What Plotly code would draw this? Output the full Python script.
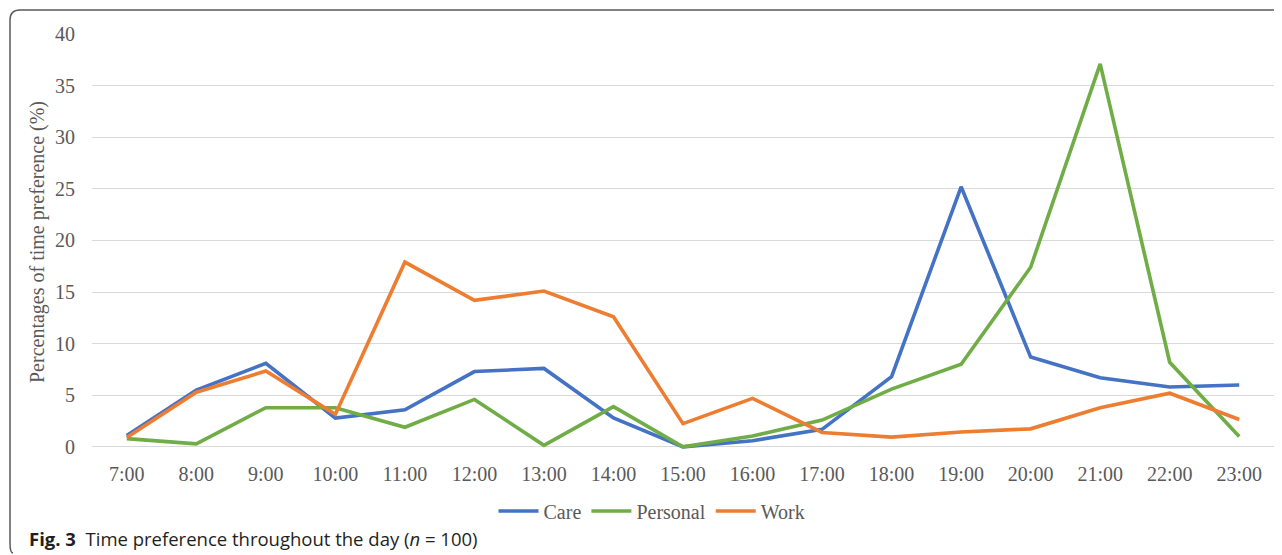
import plotly.graph_objects as go

hours = ["7:00", "8:00", "9:00", "10:00", "11:00", "12:00", "13:00", "14:00", "15:00",
         "16:00", "17:00", "18:00", "19:00", "20:00", "21:00", "22:00", "23:00"]
care = [1.1, 5.5, 8.1, 2.8, 3.6, 7.3, 7.6, 2.8, 0.0, 0.6, 1.7, 6.8, 25.2, 8.7, 6.7, 5.8, 6.0]
personal = [0.8, 0.3, 3.8, 3.8, 1.9, 4.6, 0.15, 3.9, 0.0, 1.05, 2.6, 5.6, 8.0, 17.4, 37.1, 8.2, 1.0]
work = [0.9, 5.3, 7.35, 3.15, 17.9, 14.2, 15.1, 12.6, 2.25, 4.7, 1.4, 0.95, 1.45, 1.75, 3.8, 5.2, 2.65]

OFF = 8  # page body margin
W, H = 1274, 547
L, R, T, B = 84, 8, 26, 105
PW, PH = W - L - R, H - T - B


def px(x):
    """screen x -> paper"""
    return (x - OFF - L) / PW


def py(y):
    """screen y -> paper"""
    return (H - B - (y - OFF)) / PH


serif = "Liberation Serif"
grey = "#595959"

fig = go.Figure()
for name, vals, col in [("Care", care, "#4472C4"), ("Personal", personal, "#70AD47"),
                        ("Work", work, "#ED7D31")]:
    fig.add_trace(go.Scatter(x=hours, y=vals, name=name, mode="lines",
                             line=dict(color=col, width=3.6)))

# rounded border box
x0, x1, y0, y1, r = 10, 1300, 10, 553, 10
path = (f"M {px(x0 + r)} {py(y0)} L {px(x1)} {py(y0)} "
        f"M {px(x0 + r)} {py(y0)} Q {px(x0)} {py(y0)} {px(x0)} {py(y0 + r)} "
        f"L {px(x0)} {py(y1 - r)} Q {px(x0)} {py(y1)} {px(x0 + 3)} {py(y1)}")
fig.add_shape(type="path", path=path, xref="paper", yref="paper",
              line=dict(color=grey, width=1.5))

fig.add_annotation(xref="paper", yref="paper", x=px(27), y=py(538), xanchor="left",
                   yanchor="middle", showarrow=False,
                   text="<b>Fig. 3</b>  Time preference throughout the day (<i>n</i> = 100)",
                   font=dict(family="Open Sans", size=18.5, color="#231F20"))

fig.update_layout(
    width=W, height=H,
    margin=dict(l=L, r=R, t=T, b=B),
    paper_bgcolor="white", plot_bgcolor="white",
    font=dict(family=serif, size=20, color=grey),
    legend=dict(orientation="h", x=px(652), xanchor="center", y=py(511), yanchor="middle",
                font=dict(family=serif, size=20, color=grey), itemwidth=40,
                tracegroupgap=0),
    xaxis=dict(type="category", range=[-0.5, 16.5], showgrid=False, showline=False,
               ticks="outside", ticklen=6, tickcolor="rgba(0,0,0,0)",
               tickfont=dict(family=serif, size=20, color=grey)),
    yaxis=dict(range=[-0.3, 40], tickvals=[0, 5, 10, 15, 20, 25, 30, 35, 40],
               showgrid=True, gridcolor="#D9D9D9", gridwidth=1, zeroline=False,
               showline=False, ticks="outside", ticklen=12,
               tickcolor="rgba(0,0,0,0)",
               tickfont=dict(family=serif, size=20, color=grey),
               title=dict(text="Percentages of time preference (%)", standoff=5,
                          font=dict(family=serif, size=20, color=grey))),
)

fig.write_html("out.html")
